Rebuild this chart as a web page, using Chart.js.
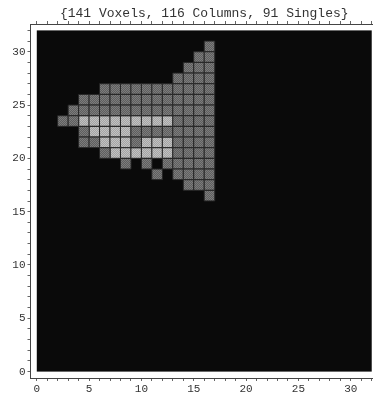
<!DOCTYPE html>
<html>
<head>
<meta charset="utf-8">
<script src="https://cdn.jsdelivr.net/npm/chart.js@4/dist/chart.umd.min.js"></script>
<style>
html, body { margin: 0; padding: 0; background: #fff; overflow: hidden; }
#wrap { width: 390px; height: 396px; }
</style>
</head>
<body>
<div id="wrap"><canvas id="grafico_voxels"></canvas></div>
<script>
// dados
const titulo = '{141 Voxels, 116 Columns, 91 Singles}';
const colunaInicial = 2; // primeira coluna da matriz (x = 2)
const linhas = [30, 29, 28, 27, 26, 25, 24, 23, 22, 21, 20, 19, 18, 17, 16];
// numero de voxels por coluna, colunas x = 2..16
const contagens = [
    [0,0,0,0,0,0,0,0,0,0,0,0,0,0,1],
    [0,0,0,0,0,0,0,0,0,0,0,0,0,1,1],
    [0,0,0,0,0,0,0,0,0,0,0,0,1,1,1],
    [0,0,0,0,0,0,0,0,0,0,0,1,1,1,1],
    [0,0,0,0,1,1,1,1,1,1,1,1,1,1,1],
    [0,0,1,1,1,1,1,1,1,1,1,1,1,1,1],
    [0,1,1,1,1,1,1,1,1,1,1,1,1,1,1],
    [1,1,2,2,2,2,2,2,2,2,2,1,1,1,1],
    [0,0,1,2,2,2,2,1,1,1,1,1,1,1,1],
    [0,0,1,1,2,2,2,1,2,2,2,1,1,1,1],
    [0,0,0,0,1,2,2,2,2,2,2,1,1,1,1],
    [0,0,0,0,0,0,1,0,1,0,1,1,1,1,1],
    [0,0,0,0,0,0,0,0,0,1,0,1,1,1,1],
    [0,0,0,0,0,0,0,0,0,0,0,0,1,1,1],
    [0,0,0,0,0,0,0,0,0,0,0,0,0,0,1]
];
const ticksEixo = [];
for (let i = 0; i <= 32; i++) ticksEixo.push(i);
const ticksRotulados = [0, 5, 10, 15, 20, 25, 30];
const limiteMin = -0.6, limiteMax = 32.6;
const grade = 32;

$singles = [];
$duplos = [];
linhas.forEach((l, i) => {
    contagens[i].forEach((c, j) => {
        const p = { x: colunaInicial + j + 0.5, y: l + 0.5 };
        if (c == 1) $singles.push(p);
        if (c == 2) $duplos.push(p);
    });
});

// textura xadrez como na figura
function padrao(c1, c2){
    const cv = document.createElement('canvas');
    cv.width = 2; cv.height = 2;
    const g = cv.getContext('2d');
    g.fillStyle = c1; g.fillRect(0, 0, 2, 2);
    g.fillStyle = c2; g.fillRect(0, 0, 1, 1); g.fillRect(1, 1, 1, 1);
    return g.createPattern(cv, 'repeat');
}

function raioCelula(context){
    const s = context.chart.scales;
    if (!s.x || !s.y) return 5;
    const px = Math.abs(s.x.getPixelForValue(1) - s.x.getPixelForValue(0));
    const py = Math.abs(s.y.getPixelForValue(1) - s.y.getPixelForValue(0));
    return (px + py) / 2 / Math.SQRT2;
}

const fundoPreto = {
    id: 'fundoPreto',
    beforeDatasetsDraw(chart){
        const { ctx, scales: { x, y } } = chart;
        const x0 = x.getPixelForValue(0), x1 = x.getPixelForValue(grade);
        const y0 = y.getPixelForValue(0), y1 = y.getPixelForValue(grade);
        ctx.save();
        ctx.fillStyle = '#0a0a0a';
        ctx.fillRect(x0, y1, x1 - x0, y0 - y1);
        ctx.restore();
    }
};

function eixo(posicao, rotulos){
    return {
        type: 'linear',
        position: posicao,
        min: limiteMin,
        max: limiteMax,
        afterBuildTicks: function(axis){ axis.ticks = ticksEixo.map(v => ({ value: v })); },
        ticks: {
            display: rotulos,
            autoSkip: false,
            maxRotation: 0,
            padding: 2,
            color: '#333',
            font: { family: 'Liberation Mono', size: 11 },
            callback: function(v){ return ticksRotulados.includes(v) ? String(v) : ''; }
        },
        grid: { display: true, drawOnChartArea: false, drawTicks: true, tickLength: 3, color: '#666' },
        border: { display: true, color: '#444', width: 1 }
    };
}

const eixoX = eixo('bottom', true);
eixoX.afterFit = function(s){ s.height = 18; };
eixoX.ticks.padding = 1;
const eixoY = eixo('left', true);
eixoY.afterFit = function(s){ s.width = 30.5; };
const eixoTopo = eixo('top', false);
eixoTopo.afterFit = function(s){ s.height = 24; };
eixoTopo.title = {
    display: true,
    text: titulo,
    color: '#333',
    font: { family: 'Liberation Mono', size: 13 },
    padding: { top: 6, bottom: 0 }
};

const config = {
    type: 'scatter',
    data: {
        datasets: [
            {
                label: 'Singles',
                data: $singles,
                pointStyle: 'rect',
                pointRadius: raioCelula,
                backgroundColor: padrao('#5e5e5e', '#7c7c7c'),
                borderColor: '#262626',
                borderWidth: 1
            },
            {
                label: 'Duplos',
                data: $duplos,
                pointStyle: 'rect',
                pointRadius: raioCelula,
                backgroundColor: padrao('#a4a4a4', '#c2c2c2'),
                borderColor: '#262626',
                borderWidth: 1
            }
        ]
    },
    options: {
        responsive: true,
        maintainAspectRatio: false,
        animation: false,
        events: [],
        layout: { padding: { left: 0, right: 12, top: 0, bottom: 0 } },
        plugins: { legend: { display: false }, tooltip: { enabled: false } },
        scales: { x: eixoX, y: eixoY, x2: eixoTopo }
    },
    plugins: [fundoPreto]
};

const ctx = document.getElementById('grafico_voxels').getContext('2d');
new Chart(ctx, config);
</script>
</body>
</html>
